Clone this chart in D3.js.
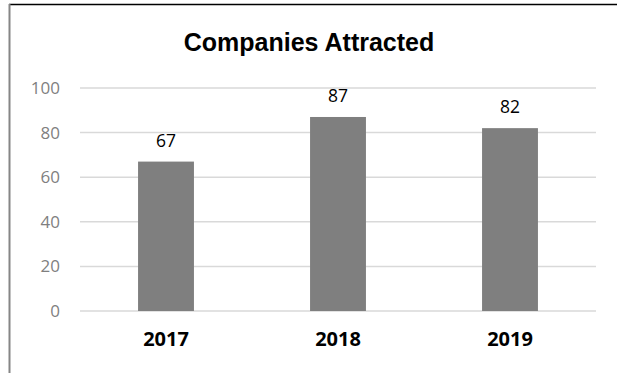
<!DOCTYPE html>
<html>
<head>
<meta charset="utf-8">
<script src="https://cdn.jsdelivr.net/npm/d3@7"></script>
<style>
  body { margin: 0; background: #fff; }
  svg { display: block; }
</style>
</head>
<body>
<svg id="container"></svg>
<script>
// chart data
var years = ["2017", "2018", "2019"];
var companies = [67, 87, 82];
var yTicks = [0, 20, 40, 60, 80, 100];

var W = 617, H = 373;
var margin = {top: 88, right: 21, bottom: 62, left: 80};
var w = W - margin.left - margin.right,
    h = H - margin.top - margin.bottom;

var svg = d3.select("#container")
    .attr("width", W)
    .attr("height", H);

// frame edges (top and left of the chart box)
svg.append("line")
    .attr("x1", 9).attr("x2", W).attr("y1", 4.5).attr("y2", 4.5)
    .attr("stroke", "#000").attr("stroke-width", 1.5);
svg.append("line")
    .attr("x1", 9.5).attr("x2", 9.5).attr("y1", 4).attr("y2", H)
    .attr("stroke", "#868686").attr("stroke-width", 2);

svg.append("text")
    .attr("x", 309).attr("y", 51)
    .attr("text-anchor", "middle")
    .style("font-family", "'Liberation Sans', Arial, sans-serif")
    .style("font-weight", "bold")
    .style("font-size", "25px")
    .text("Companies Attracted");

var g = svg.append("g")
    .attr("transform", "translate(" + margin.left + "," + margin.top + ")");

var x = d3.scaleBand().domain(years).range([0, w]).paddingInner(0.675).paddingOuter(0.3375);
var y = d3.scaleLinear().domain([0, 100]).range([h, 0]);

// gridlines
g.selectAll(".grid")
    .data(yTicks)
    .enter().append("line")
    .attr("class", "grid")
    .attr("x1", 0).attr("x2", w)
    .attr("y1", d => y(d)).attr("y2", d => y(d))
    .attr("stroke", "#d9d9d9")
    .attr("stroke-width", 1.5);

// y axis labels
var yAxis = d3.axisLeft(y).tickValues(yTicks).tickSize(0).tickPadding(20);
var gY = g.append("g").call(yAxis);
gY.select(".domain").remove();
gY.selectAll("text")
    .style("font-family", "'Open Sans', sans-serif")
    .style("font-size", "17px")
    .attr("fill", "#7f7f7f");

// bars
g.selectAll(".bar")
    .data(companies)
    .enter().append("rect")
    .attr("class", "bar")
    .attr("x", (d, i) => x(years[i]))
    .attr("y", d => y(d))
    .attr("width", x.bandwidth())
    .attr("height", d => h - y(d))
    .attr("fill", "#7f7f7f");

// value labels
g.selectAll(".val")
    .data(companies)
    .enter().append("text")
    .attr("class", "val")
    .attr("x", (d, i) => x(years[i]) + x.bandwidth() / 2)
    .attr("y", d => y(d) - 15)
    .attr("text-anchor", "middle")
    .style("font-family", "'Open Sans', sans-serif")
    .style("font-size", "17.5px")
    .attr("fill", "#000")
    .text(d => d);

// x axis labels
var xAxis = d3.axisBottom(x).tickSize(0).tickPadding(21);
var gX = g.append("g").attr("transform", "translate(0," + h + ")").call(xAxis);
gX.select(".domain").remove();
gX.selectAll("text")
    .style("font-family", "'Open Sans', sans-serif")
    .style("font-weight", "bold")
    .style("font-size", "20px")
    .attr("fill", "#000");
</script>
</body>
</html>
